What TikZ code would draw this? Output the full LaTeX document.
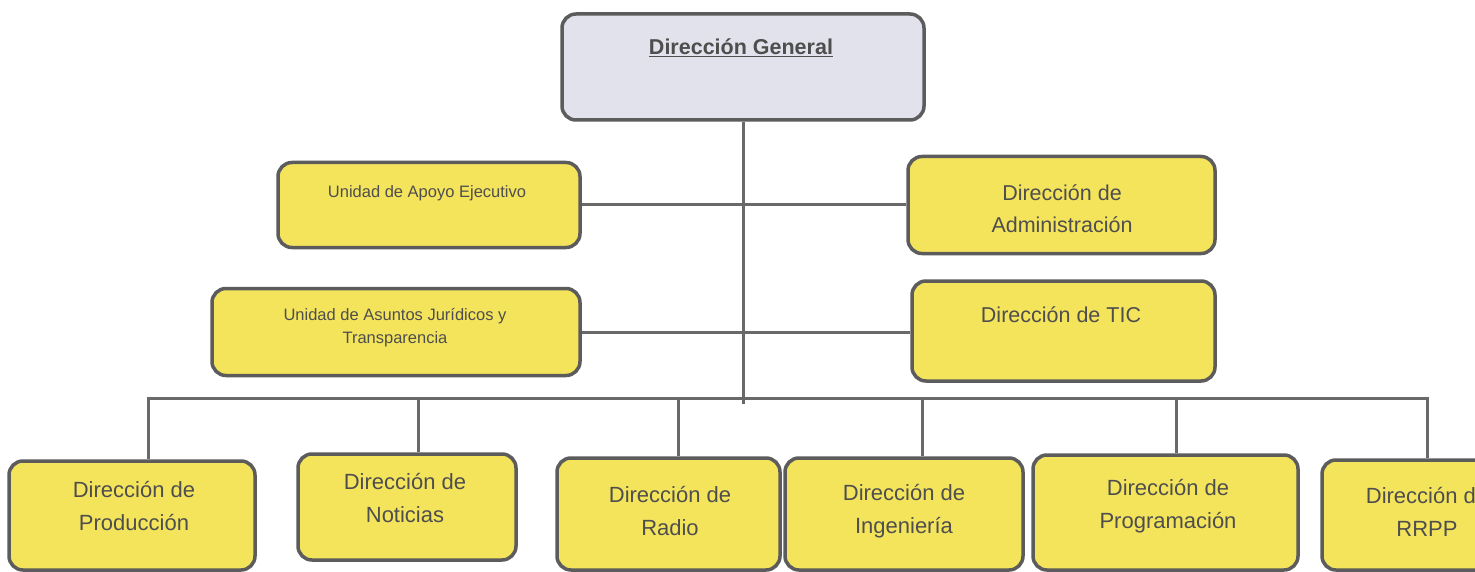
\documentclass[tikz,border=0pt]{standalone}
\usepackage{fontspec}
\setmainfont{Liberation Sans}
\definecolor{boxyellow}{RGB}{244,228,92}
\definecolor{dgfill}{RGB}{226,226,236}
\definecolor{edgegray}{RGB}{92,92,92}
\definecolor{linegray}{RGB}{105,105,105}
\definecolor{txtgray}{RGB}{78,78,78}
\tikzset{
  box/.style={draw=edgegray, line width=3.5pt, rounded corners=14pt, fill=boxyellow, inner sep=0pt},
  txt/.style={text=txtgray, align=center, inner sep=0pt, font=\fontsize{22}{33}\selectfont},
  smalltxt/.style={text=txtgray, align=center, inner sep=0pt, font=\fontsize{16.5}{23}\selectfont},
  conn/.style={draw=linegray, line width=3pt},
}
\begin{document}
\begin{tikzpicture}[x=1pt,y=-1pt]
\useasboundingbox (0,0) rectangle (1475,572);
\fill[white] (0,0) rectangle (1475,572);
\clip (0,0) rectangle (1475,572);

% boxes
\node[box, fill=dgfill, minimum width=362pt, minimum height=106pt] (dg) at (743,67) {};
\node[box, minimum width=302pt, minimum height=85pt] (apoyo) at (429,205) {};
\node[box, minimum width=307pt, minimum height=97pt] (admin) at (1061.5,205) {};
\node[box, minimum width=368pt, minimum height=87pt] (asuntos) at (396,332) {};
\node[box, minimum width=303pt, minimum height=100pt] (tic) at (1063.5,331) {};
\node[box, minimum width=246pt, minimum height=109pt] (prod) at (132,515.5) {};
\node[box, minimum width=218pt, minimum height=106pt] (noti) at (407,507) {};
\node[box, minimum width=223pt, minimum height=112pt] (radio) at (668.5,514) {};
\node[box, minimum width=238pt, minimum height=112pt] (inge) at (904,514) {};
\node[box, minimum width=265pt, minimum height=115pt] (prog) at (1165.5,512.5) {};
\node[box, minimum width=210pt, minimum height=110pt] (rrpp) at (1427,515) {};

% texts
\node[txt, font=\fontsize{21.5}{30}\selectfont\bfseries] (dgt) at (741,48) {\underline{Dirección General}};
\node[smalltxt] (apoyot) at (427,193) {Unidad de Apoyo Ejecutivo};
\node[txt, font=\fontsize{21.5}{32}\selectfont] (admint) at (1062,209) {Dirección de\\Administración};
\node[smalltxt] (asuntost) at (395,328) {Unidad de Asuntos Jurídicos y\\Transparencia};
\node[txt, font=\fontsize{21.5}{32}\selectfont] (tict) at (1061,315) {Dirección de TIC};
\node[txt] (prodt) at (134,506) {Dirección de\\Producción};
\node[txt] (notit) at (405,498) {Dirección de\\Noticias};
\node[txt] (radiot) at (670,511) {Dirección de\\Radio};
\node[txt] (inget) at (904,511) {Dirección de\\Ingeniería};
\node[txt] (progt) at (1168,506) {Dirección de\\Programación};
\node[txt] (rrppt) at (1427,512) {Dirección de\\RRPP};

% connectors
\coordinate (bus) at (743,398);
\coordinate (mainend) at (743,404);
\draw[conn] (dg.south) -- (mainend);
\draw[conn] (apoyo.east) -- (admin.west);
\draw[conn] (asuntos.east) -- (asuntos.east -| tic.west);

\coordinate (pn) at ([xshift=16pt]prod.north);
\coordinate (nn) at ([xshift=11pt]noti.north);
\coordinate (rn) at ([xshift=10pt]radio.north);
\coordinate (in) at ([xshift=18pt]inge.north);
\coordinate (gn) at ([xshift=11pt]prog.north);
\coordinate (qn) at (rrpp.north);

\draw[conn] (pn) -- (pn |- bus) -- (qn |- bus) -- (qn);
\draw[conn] (nn) -- (nn |- bus);
\draw[conn] (rn) -- (rn |- bus);
\draw[conn] (in) -- (in |- bus);
\draw[conn] (gn) -- (gn |- bus);
\end{tikzpicture}
\end{document}
